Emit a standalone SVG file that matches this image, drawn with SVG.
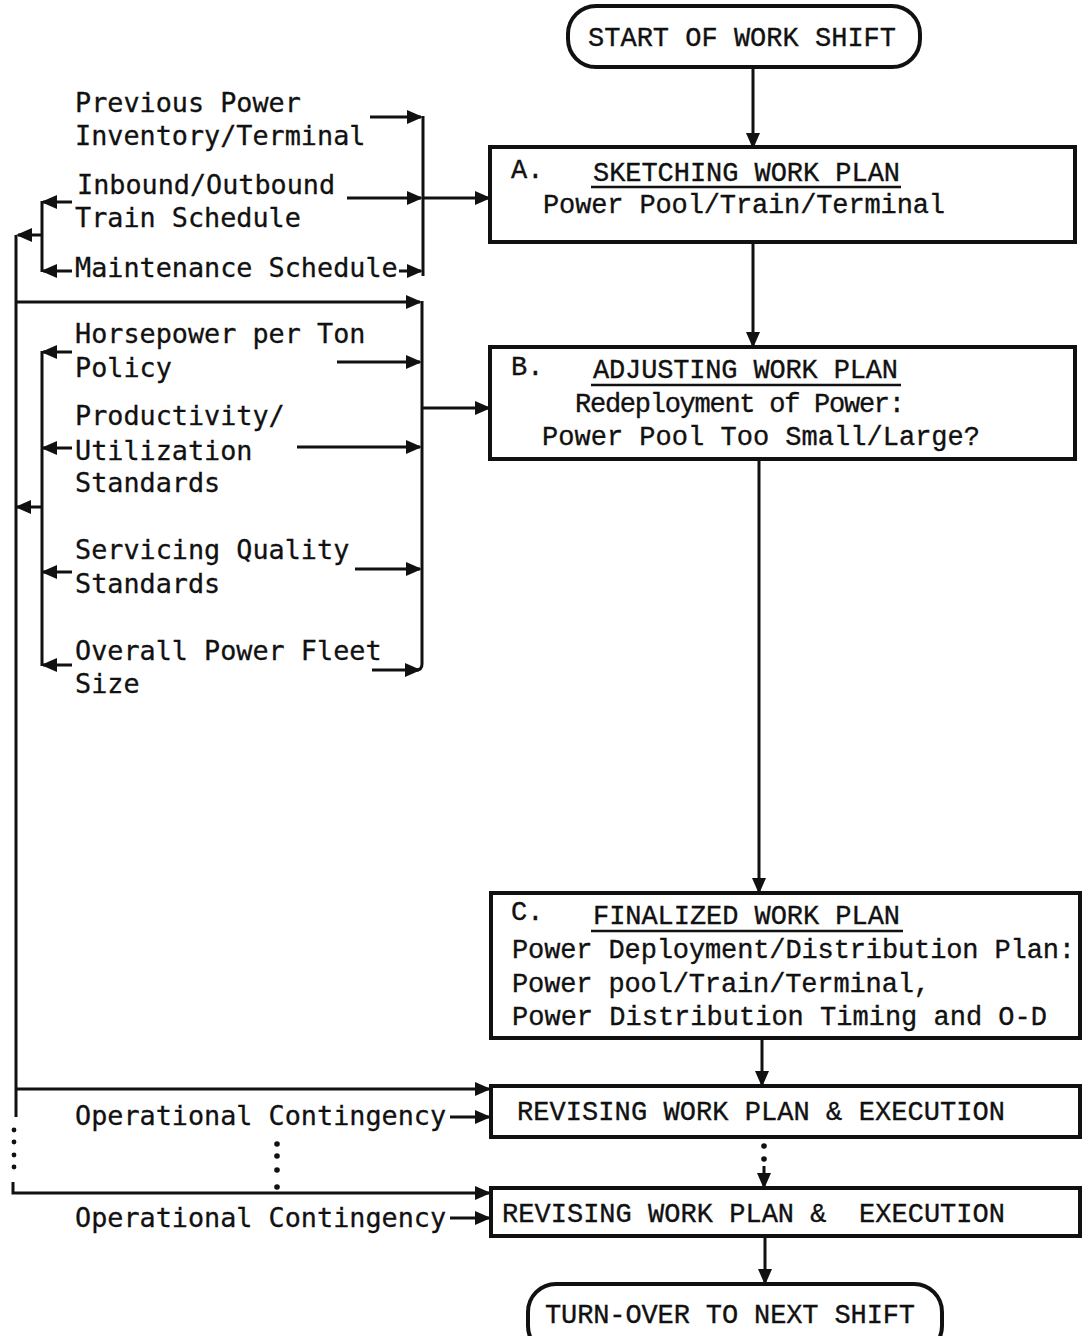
<svg xmlns="http://www.w3.org/2000/svg" width="1083" height="1336" viewBox="0 0 1083 1336">
  <style>
    .box { fill: #fff; stroke: #111; stroke-width: 4; }
    .bt { font-family: "Liberation Mono", "DejaVu Sans Mono", monospace; font-size: 27px; fill: #111; stroke: #111; stroke-width: 0.35; }
    .lbl { font-family: "DejaVu Sans Mono", "Liberation Mono", monospace; font-size: 26.8px; fill: #111; stroke: #111; stroke-width: 0.3; }
    .ln { fill: none; stroke: #111; stroke-width: 3; }
    .ul { stroke: #111; stroke-width: 2.5; }
    .dot { fill: #111; }
  </style>
  <defs>
    <marker id="ah" viewBox="0 0 16 14" refX="14" refY="7" markerWidth="16" markerHeight="14" markerUnits="userSpaceOnUse" orient="auto" preserveAspectRatio="none">
      <path d="M0,0 L16,7 L0,14 z" fill="#111"/>
    </marker>
  </defs>
  <rect width="1083" height="1336" fill="#fff"/>

  <!-- connectors -->
  <g id="connectors">
    <!-- main flow -->
    <path class="ln" d="M753 67 V147" marker-end="url(#ah)"/>
    <path class="ln" d="M753 242 V346" marker-end="url(#ah)"/>
    <path class="ln" d="M759 459 V892" marker-end="url(#ah)"/>
    <path class="ln" d="M762 1038 V1085" marker-end="url(#ah)"/>
    <circle class="dot" cx="764" cy="1146" r="2.8"/>
    <circle class="dot" cx="764" cy="1159" r="2.8"/>
    <path class="ln" d="M764 1166 V1187" marker-end="url(#ah)"/>
    <path class="ln" d="M765 1236 V1283" marker-end="url(#ah)"/>

    <!-- first input group: right side collector -->
    <path class="ln" d="M370 117 H421" marker-end="url(#ah)"/>
    <path class="ln" d="M423 116 V276"/>
    <path class="ln" d="M347 198 H421" marker-end="url(#ah)"/>
    <path class="ln" d="M423 198 H489" marker-end="url(#ah)"/>
    <path class="ln" d="M399 271 H421" marker-end="url(#ah)"/>
    <!-- first input group: left feedback bracket -->
    <path class="ln" d="M42 201 V272"/>
    <path class="ln" d="M72 202 H43" marker-end="url(#ah)"/>
    <path class="ln" d="M72 271 H43" marker-end="url(#ah)"/>
    <path class="ln" d="M42 235 H18" marker-end="url(#ah)"/>

    <!-- feedback spine -->
    <path class="ln" d="M16 235 V1117"/>
    <circle class="dot" cx="14" cy="1130" r="2.4"/>
    <circle class="dot" cx="14" cy="1142" r="2.4"/>
    <circle class="dot" cx="14" cy="1155" r="2.4"/>
    <circle class="dot" cx="14" cy="1167" r="2.4"/>
    <path class="ln" d="M13 1182 V1193 H489" marker-end="url(#ah)"/>
    <path class="ln" d="M16 1089 H489" marker-end="url(#ah)"/>

    <!-- second input group: right side collector -->
    <path class="ln" d="M16 302 H420" marker-end="url(#ah)"/>
    <path class="ln" d="M422 301 V664 Q422 670 416 670"/>
    <path class="ln" d="M337 362 H420" marker-end="url(#ah)"/>
    <path class="ln" d="M297 447 H420" marker-end="url(#ah)"/>
    <path class="ln" d="M355 569 H420" marker-end="url(#ah)"/>
    <path class="ln" d="M372 670 H419" marker-end="url(#ah)"/>
    <path class="ln" d="M422 408 H489" marker-end="url(#ah)"/>
    <!-- second input group: left feedback bracket -->
    <path class="ln" d="M42 351 V666"/>
    <path class="ln" d="M72 352 H43" marker-end="url(#ah)"/>
    <path class="ln" d="M72 448 H43" marker-end="url(#ah)"/>
    <path class="ln" d="M72 572 H43" marker-end="url(#ah)"/>
    <path class="ln" d="M72 665 H43" marker-end="url(#ah)"/>
    <path class="ln" d="M42 507 H17" marker-end="url(#ah)"/>

    <!-- contingency inputs -->
    <path class="ln" d="M450 1117 H489" marker-end="url(#ah)"/>
    <path class="ln" d="M450 1218 H489" marker-end="url(#ah)"/>
    <circle class="dot" cx="277" cy="1144" r="2.8"/>
    <circle class="dot" cx="277" cy="1156" r="2.8"/>
    <circle class="dot" cx="277" cy="1170" r="2.8"/>
    <circle class="dot" cx="277" cy="1187" r="2.8"/>
  </g>

  <!-- terminators and process boxes -->
  <g id="node-start">
    <rect class="box" x="568" y="6" width="352" height="61" rx="28"/>
    <text class="bt" x="588" y="46" textLength="308" lengthAdjust="spacing">START OF WORK SHIFT</text>
  </g>

  <g id="node-a">
    <rect class="box" x="490" y="147" width="585" height="95"/>
    <text class="bt" x="511" y="178">A.</text>
    <text class="bt" x="593" y="181" textLength="307" lengthAdjust="spacing">SKETCHING WORK PLAN</text>
    <line class="ul" x1="591" y1="187" x2="901" y2="187"/>
    <text class="bt" x="543" y="213" textLength="402" lengthAdjust="spacing">Power Pool/Train/Terminal</text>
  </g>

  <g id="node-b">
    <rect class="box" x="490" y="347" width="585" height="112"/>
    <text class="bt" x="511" y="375">B.</text>
    <text class="bt" x="593" y="378" textLength="305" lengthAdjust="spacing">ADJUSTING WORK PLAN</text>
    <line class="ul" x1="591" y1="385" x2="901" y2="385"/>
    <text class="bt" x="575" y="412" textLength="330" lengthAdjust="spacing">Redeployment of Power:</text>
    <text class="bt" x="542" y="445" textLength="438" lengthAdjust="spacing">Power Pool Too Small/Large?</text>
  </g>

  <g id="node-c">
    <rect class="box" x="491" y="893" width="589" height="145"/>
    <text class="bt" x="511" y="920">C.</text>
    <text class="bt" x="593" y="924" textLength="307" lengthAdjust="spacing">FINALIZED WORK PLAN</text>
    <line class="ul" x1="591" y1="931" x2="903" y2="931"/>
    <text class="bt" x="512" y="958" textLength="563" lengthAdjust="spacing">Power Deployment/Distribution Plan:</text>
    <text class="bt" x="512" y="992" textLength="418" lengthAdjust="spacing">Power pool/Train/Terminal,</text>
    <text class="bt" x="512" y="1025" textLength="535" lengthAdjust="spacing">Power Distribution Timing and O-D</text>
  </g>

  <g id="node-revise-1">
    <rect class="box" x="491" y="1086" width="589" height="51"/>
    <text class="bt" x="517" y="1120" textLength="488" lengthAdjust="spacing">REVISING WORK PLAN &amp; EXECUTION</text>
  </g>

  <g id="node-revise-2">
    <rect class="box" x="491" y="1188" width="589" height="48"/>
    <text class="bt" x="502" y="1222" textLength="503" lengthAdjust="spacing" xml:space="preserve">REVISING WORK PLAN &amp;  EXECUTION</text>
  </g>

  <g id="node-end">
    <rect class="box" x="528" y="1284" width="414" height="70" rx="28"/>
    <text class="bt" x="545" y="1323" textLength="370" lengthAdjust="spacing">TURN-OVER TO NEXT SHIFT</text>
  </g>

  <!-- input labels -->
  <g id="input-previous-power">
    <text class="lbl" x="75" y="112">Previous Power</text>
    <text class="lbl" x="75" y="145">Inventory/Terminal</text>
  </g>
  <g id="input-train-schedule">
    <text class="lbl" x="77" y="194">Inbound/Outbound</text>
    <text class="lbl" x="75" y="227">Train Schedule</text>
  </g>
  <g id="input-maintenance">
    <text class="lbl" x="75" y="277">Maintenance Schedule</text>
  </g>
  <g id="input-horsepower">
    <text class="lbl" x="75" y="343">Horsepower per Ton</text>
    <text class="lbl" x="75" y="377">Policy</text>
  </g>
  <g id="input-productivity">
    <text class="lbl" x="75" y="425">Productivity/</text>
    <text class="lbl" x="75" y="460">Utilization</text>
    <text class="lbl" x="75" y="492">Standards</text>
  </g>
  <g id="input-servicing">
    <text class="lbl" x="75" y="559">Servicing Quality</text>
    <text class="lbl" x="75" y="593">Standards</text>
  </g>
  <g id="input-fleet-size">
    <text class="lbl" x="75" y="660">Overall Power Fleet</text>
    <text class="lbl" x="75" y="693">Size</text>
  </g>
  <g id="input-contingency-1">
    <text class="lbl" x="75" y="1125">Operational Contingency</text>
  </g>
  <g id="input-contingency-2">
    <text class="lbl" x="75" y="1227">Operational Contingency</text>
  </g>
</svg>
